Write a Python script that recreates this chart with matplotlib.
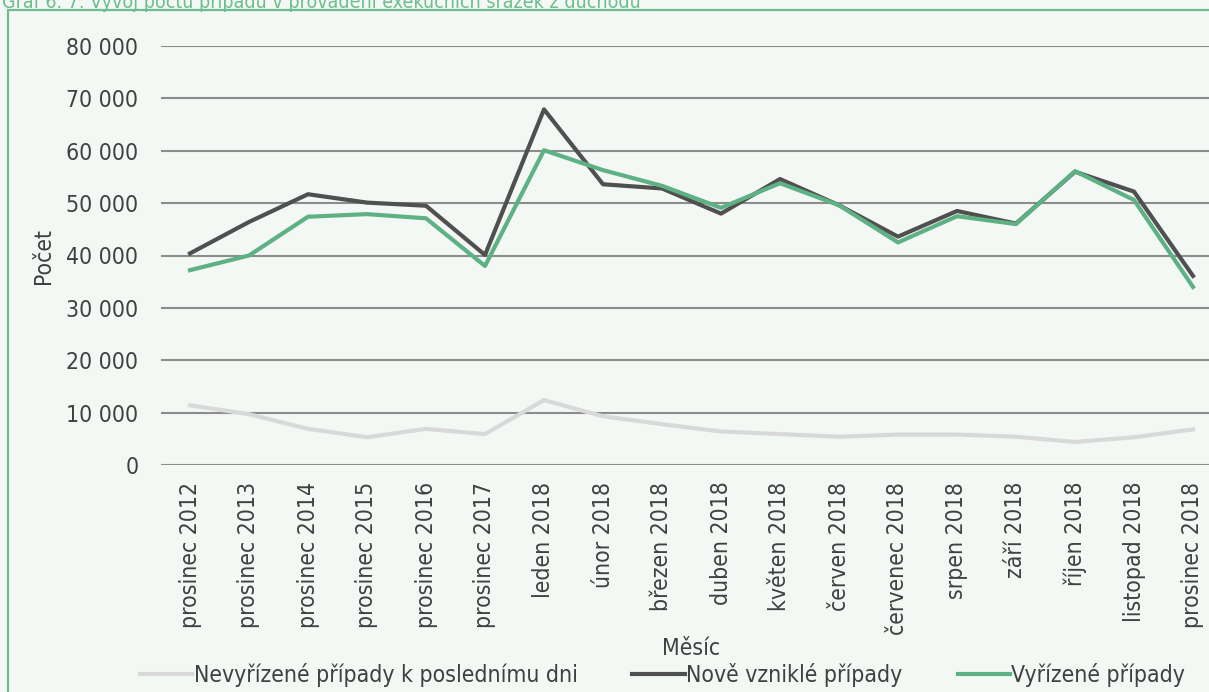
import matplotlib
matplotlib.use("Agg")
import matplotlib.pyplot as plt
from matplotlib.patches import Rectangle
from matplotlib.ticker import FuncFormatter

months = ["prosinec 2012", "prosinec 2013", "prosinec 2014", "prosinec 2015",
          "prosinec 2016", "prosinec 2017", "leden 2018", "únor 2018",
          "březen 2018", "duben 2018", "květen 2018", "červen 2018",
          "červenec 2018", "srpen 2018", "září 2018", "říjen 2018",
          "listopad 2018", "prosinec 2018"]
nevyrizene = [11400, 9700, 6900, 5300, 6900, 5900, 12400, 9300, 7800, 6400,
              5900, 5400, 5800, 5800, 5400, 4400, 5300, 6800]
nove = [40400, 46400, 51700, 50100, 49500, 40100, 67900, 53600, 52800, 48000,
        54600, 49600, 43600, 48500, 46100, 56000, 52200, 36100]
vyrizene = [37200, 40000, 47400, 47900, 47100, 38000, 60100, 56300, 53300, 49100,
            53800, 49600, 42500, 47500, 46000, 56100, 50600, 34000]

BG = "#f3f8f5"
GREEN = "#5db184"
DARK = "#505050"
LIGHT = "#d9d9d9"
TXT = "#404040"
FS = 16.5

plt.rcParams["font.family"] = ["DejaVu Sans"]
plt.rcParams["font.stretch"] = "condensed"

fig = plt.figure(figsize=(12.09, 6.92), dpi=100, facecolor=BG)
fig.patches.append(Rectangle((8 / 1209, -0.01), 1.1, (692 - 10) / 692 + 0.01,
                             transform=fig.transFigure, fill=False,
                             edgecolor="#6dbd8f", lw=1.6))
fig.text(2 / 1209, 1 - 2 / 692, "Graf 6. 7: Vývoj počtu případů v provádění exekučních srážek z důchodu",
         color="#6dbd8f", fontsize=14, va="center", ha="left")

ax = fig.add_axes([160.5 / 1209, (692 - 465) / 692, 1062 / 1209, 419 / 692])
ax.set_facecolor(BG)
x = range(len(months))
ax.plot(x, nevyrizene, color=LIGHT, lw=3, label="Nevyřízené případy k poslednímu dni")
ax.plot(x, nove, color=DARK, lw=3, label="Nově vzniklé případy")
ax.plot(x, vyrizene, color=GREEN, lw=3, label="Vyřízené případy")

ax.set_xlim(-0.5, len(months) - 0.5)
ax.set_ylim(0, 80000)
ax.set_yticks(range(0, 80001, 10000))
ax.yaxis.set_major_formatter(FuncFormatter(lambda v, p: f"{int(v):,}".replace(",", " ")))
ax.set_xticks(list(x))
ax.set_xticklabels(months, rotation=90)
ax.grid(axis="y", color="#8c8c8c", lw=1.5)
ax.set_axisbelow(True)
for s in ax.spines.values():
    s.set_visible(False)
ax.tick_params(length=0, colors=TXT, labelsize=FS)
ax.tick_params(axis="y", pad=16)
ax.tick_params(axis="x", pad=12)
ax.set_ylabel("Počet", color=TXT, fontsize=FS, labelpad=8)
ax.set_xlabel("Měsíc", color=TXT, fontsize=FS, labelpad=2)

fig.legend(loc="center", bbox_to_anchor=(0.548, 17 / 692), ncol=3, frameon=False,
           fontsize=FS, handlelength=2.3, handletextpad=0.05, columnspacing=2.4,
           labelcolor=TXT)

fig.savefig("out.png", dpi=100, facecolor=BG)
